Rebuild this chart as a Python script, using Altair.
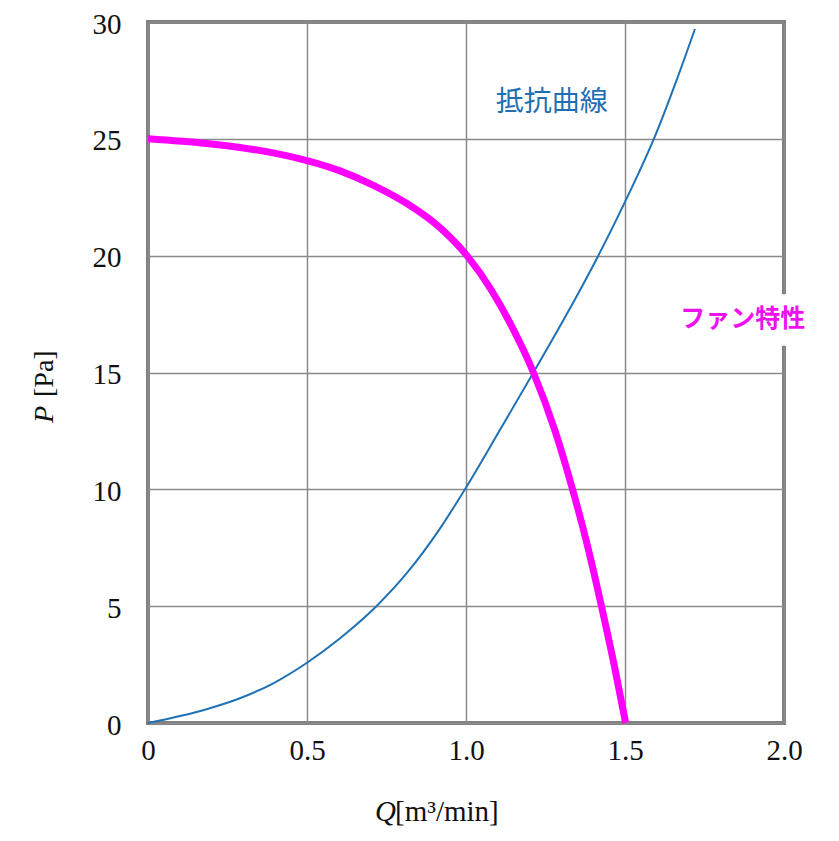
import altair as alt
import pandas as pd

# Fan characteristic curve (magenta)
fan_Q = [0.0, 0.184, 0.289, 0.394, 0.5, 0.604, 0.709, 0.813, 0.918, 1.003, 1.081, 1.139, 1.212, 1.28, 1.335, 1.38, 1.426, 1.466, 1.502]
fan_P = [25.0, 24.8, 24.63, 24.4, 24.07, 23.63, 23.01, 22.24, 21.2, 20.0, 18.5, 17.1, 15.0, 12.5, 10.0, 7.7, 5.0, 2.48, 0.0]

# Resistance curve (blue)
res_Q = [0.0, 0.184, 0.289, 0.394, 0.5, 0.604, 0.719, 0.813, 0.918, 0.993, 1.102, 1.212, 1.317, 1.416, 1.5, 1.597, 1.662, 1.72]
res_P = [0.0, 0.59, 1.06, 1.70, 2.58, 3.63, 5.01, 6.40, 8.32, 9.92, 12.43, 15.0, 17.5, 20.0, 22.3, 25.2, 27.5, 29.7]

x_ticks = [0, 0.5, 1.0, 1.5, 2.0]
x_tick_labels = ["0", "0.5", "1.0", "1.5", "2.0"]
y_ticks = [0, 5, 10, 15, 20, 25, 30]

label_res = "抵抗曲線"
label_fan = "ファン特性"
label_pos_res = (1.27, 26.55)
label_pos_fan = (1.87, 17.3)
gap_box = (1.94, 2.06, 16.15, 18.35)

fan_df = pd.DataFrame({"Q": fan_Q, "P": fan_P})
res_df = pd.DataFrame({"Q": res_Q, "P": res_P})

serif = "Liberation Serif"
label_expr = " : ".join(
    [f"datum.value == {v} ? '{l}'" for v, l in zip(x_ticks, x_tick_labels)]
) + " : ''"

xscale = alt.Scale(domain=[0, 2.0], nice=False, zero=False)
yscale = alt.Scale(domain=[0, 30], nice=False, zero=False)

xaxis = alt.Axis(values=x_ticks, labelExpr=label_expr, title=None, ticks=False,
                 domain=False, grid=True, gridColor="#8a8a8a", gridWidth=1.5, gridOpacity=1,
                 labelFont=serif, labelFontSize=29, labelColor="#111111",
                 labelPadding=13, labelFlush=False)
yaxis = alt.Axis(values=y_ticks, title=None, ticks=False, domain=False, grid=True,
                 gridColor="#8a8a8a", gridWidth=1.5, gridOpacity=1,
                 labelFont=serif, labelFontSize=29, labelColor="#111111",
                 labelPadding=27, labelOffset=2, labelFlush=False)

base_res = alt.Chart(res_df).mark_line(color="#1f72b5", strokeWidth=2, interpolate="monotone").encode(
    x=alt.X("Q:Q", scale=xscale, axis=xaxis),
    y=alt.Y("P:Q", scale=yscale, axis=yaxis),
)

fan_line = alt.Chart(fan_df).mark_line(color="#ff00ff", strokeWidth=7, interpolate="monotone").encode(
    x=alt.X("Q:Q", scale=xscale),
    y=alt.Y("P:Q", scale=yscale),
)

ann_df = pd.DataFrame({
    "Q": [label_pos_res[0], label_pos_fan[0]],
    "P": [label_pos_res[1], label_pos_fan[1]],
    "text": [label_res, label_fan],
})

gap_df = pd.DataFrame({"x1": [gap_box[0]], "x2": [gap_box[1]], "y1": [gap_box[2]], "y2": [gap_box[3]]})
gap = alt.Chart(gap_df).mark_rect(color="white").encode(
    x=alt.X("x1:Q", scale=xscale), x2="x2:Q",
    y=alt.Y("y1:Q", scale=yscale), y2="y2:Q",
)

res_text = alt.Chart(ann_df.iloc[[0]]).mark_text(
    font="Noto Sans CJK JP", fontSize=28, color="#1f6fb3", align="center", baseline="middle"
).encode(x=alt.X("Q:Q", scale=xscale), y=alt.Y("P:Q", scale=yscale), text="text:N")

fan_text = alt.Chart(ann_df.iloc[[1]]).mark_text(
    font="Noto Sans CJK JP", fontSize=25, fontWeight="bold", color="#ee11ee",
    align="center", baseline="middle"
).encode(x=alt.X("Q:Q", scale=xscale), y=alt.Y("P:Q", scale=yscale), text="text:N")

one = pd.DataFrame({"a": [0]})
q_it = alt.Chart(one).mark_text(font=serif, fontSize=29, fontStyle="italic", color="#111111",
                                align="left", baseline="alphabetic", text="Q").encode(
    x=alt.value(227), y=alt.value(799))
q_rest = alt.Chart(one).mark_text(font=serif, fontSize=29, color="#111111",
                                  align="left", baseline="alphabetic", text="[m³/min]").encode(
    x=alt.value(247), y=alt.value(799))
p_it = alt.Chart(one).mark_text(font=serif, fontSize=28, fontStyle="italic", color="#111111",
                                align="left", baseline="alphabetic", angle=270, text="P").encode(
    x=alt.value(-95), y=alt.value(401))
p_rest = alt.Chart(one).mark_text(font=serif, fontSize=28, color="#111111",
                                  align="left", baseline="alphabetic", angle=270, text="[Pa]").encode(
    x=alt.value(-95), y=alt.value(375))

chart = alt.layer(
    base_res, fan_line, gap, res_text, fan_text, q_it, q_rest, p_it, p_rest
).properties(
    width=636, height=701,
    autosize=alt.AutoSizeParams(type="none"),
    padding={"left": 148, "top": 22, "right": 55, "bottom": 118},
    background="white",
).configure_view(
    stroke="#808080", strokeWidth=4,
)

chart.save("out.html", embed_options={"renderer": "svg", "actions": False})
